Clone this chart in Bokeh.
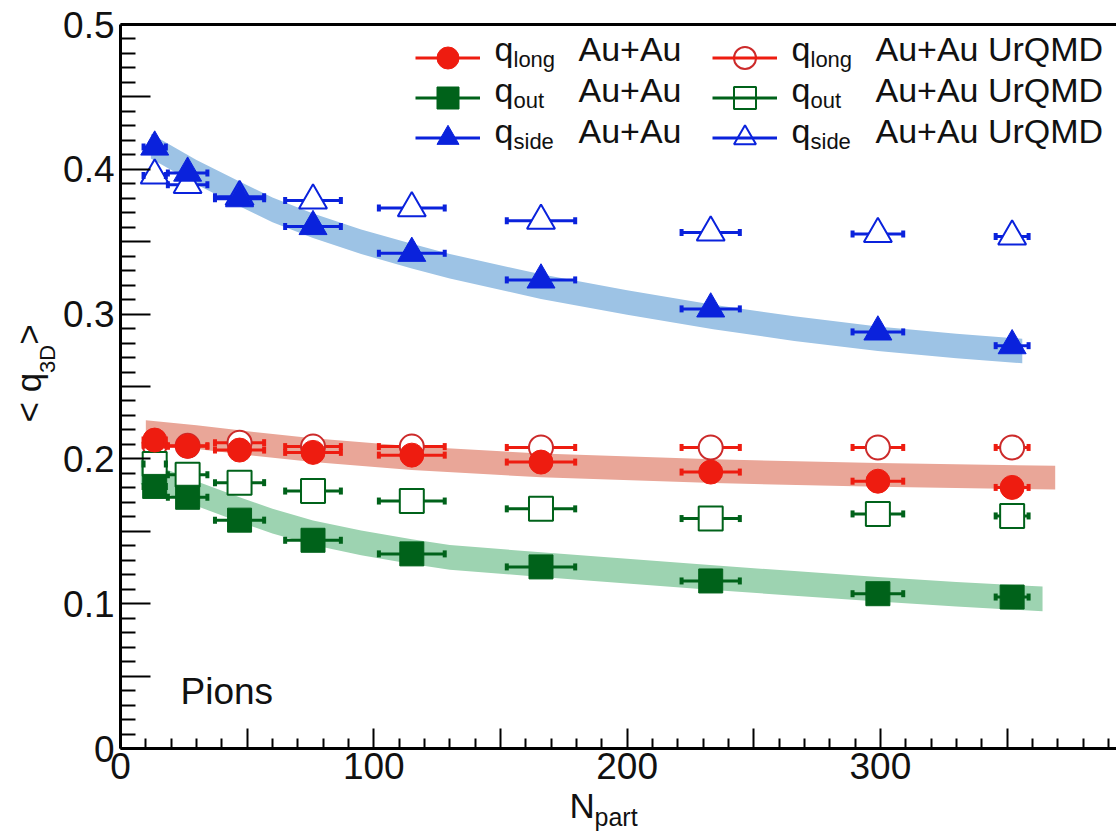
from math import pi, sin, cos
from bokeh.plotting import figure
from bokeh.models import (Range1d, LinearAxis, FixedTicker, ColumnDataSource, Whisker,
                          TeeHead, Label, Legend, LegendItem)
from bokeh.embed import file_html
from bokeh.resources import INLINE

# ---------------- data ----------------
npart = [13.5, 26.5, 47, 76, 115, 166, 233, 299, 352]
npart_err = [4.4, 7.8, 9.7, 11.0, 13.0, 13.5, 11.5, 10.0, 6.5]

q_long_auau = [0.2130, 0.2088, 0.2061, 0.2045, 0.2026, 0.1978, 0.1909, 0.1846, 0.1803]
q_out_auau = [0.1810, 0.1735, 0.1577, 0.1438, 0.1344, 0.1254, 0.1157, 0.1069, 0.1046]
q_side_auau = [0.4154, 0.3974, 0.3797, 0.3605, 0.3420, 0.3236, 0.3036, 0.2877, 0.2782]

q_long_urqmd = [0.2095, 0.2090, 0.2112, 0.2085, 0.2085, 0.2079, 0.2079, 0.2079, 0.2079]
q_out_urqmd = [0.1964, 0.1890, 0.1836, 0.1778, 0.1709, 0.1655, 0.1588, 0.1620, 0.1606]
q_side_urqmd = [0.3958, 0.3893, 0.3810, 0.3785, 0.3732, 0.3645, 0.3564, 0.3553, 0.3536]

band_long_x = [10, 30, 47, 76, 115, 166, 234, 299, 369]
band_long_hi = [0.2267, 0.2232, 0.2197, 0.2142, 0.2087, 0.2037, 0.1997, 0.1972, 0.1952]
band_long_lo = [0.2103, 0.2068, 0.2033, 0.1978, 0.1923, 0.1873, 0.1833, 0.1808, 0.1788]

band_out_x = [8, 20, 30, 47, 60, 76, 95, 115, 130, 166, 200, 234, 266, 299, 330, 364]
band_out_hi = [0.1995, 0.1915, 0.1845, 0.1735, 0.1655, 0.1575, 0.1505, 0.1445, 0.1405,
               0.1355, 0.1310, 0.1265, 0.1225, 0.1185, 0.1150, 0.1118]
band_out_lo = [0.1825, 0.1745, 0.1675, 0.1565, 0.1485, 0.1405, 0.1335, 0.1275, 0.1235,
               0.1185, 0.1140, 0.1095, 0.1055, 0.1015, 0.0980, 0.0948]

band_side_x = [12, 20, 30, 47, 60, 76, 95, 115, 130, 166, 200, 234, 266, 299, 330, 356]
band_side_hi = [0.4245, 0.4165, 0.4065, 0.3915, 0.3805, 0.3695, 0.3585, 0.3485, 0.3415,
                0.3275, 0.3165, 0.3065, 0.2985, 0.2915, 0.2865, 0.2830]
band_side_lo = [0.4075, 0.3995, 0.3895, 0.3745, 0.3635, 0.3525, 0.3415, 0.3315, 0.3245,
                0.3105, 0.2995, 0.2895, 0.2815, 0.2745, 0.2695, 0.2660]

x_major = [0, 50, 100, 150, 200, 250, 300, 350]
x_minor = [10, 20, 30, 40, 60, 70, 80, 90, 110, 120, 130, 140, 160, 170, 180, 190,
           210, 220, 230, 240, 260, 270, 280, 290, 310, 320, 330, 340, 360, 370, 380, 390]
x_labels = {0: "0", 50: "", 100: "100", 150: "", 200: "200", 250: "", 300: "300", 350: ""}
y_major = [0, 0.05, 0.1, 0.15, 0.2, 0.25, 0.3, 0.35, 0.4, 0.45, 0.5]
y_minor = [0.01, 0.02, 0.03, 0.04, 0.06, 0.07, 0.08, 0.09, 0.11, 0.12, 0.13, 0.14,
           0.16, 0.17, 0.18, 0.19, 0.21, 0.22, 0.23, 0.24, 0.26, 0.27, 0.28, 0.29,
           0.31, 0.32, 0.33, 0.34, 0.36, 0.37, 0.38, 0.39, 0.41, 0.42, 0.43, 0.44,
           0.46, 0.47, 0.48, 0.49]
y_labels = {0: "0", 0.05: "", 0.1: "0.1", 0.15: "", 0.2: "0.2", 0.25: "", 0.3: "0.3",
            0.35: "", 0.4: "0.4", 0.45: "", 0.5: "0.5"}

RED, GREEN, BLUE = "#ee1c10", "#00621a", "#0a22dc"
RED_OPEN = "#cc2a2a"
BAND_RED, BAND_GREEN, BAND_BLUE = "#e9a698", "#9dd3b1", "#9dc3e5"
FONT = "Liberation Sans"

# ---------------- layout constants (canvas pixels) ----------------
W, H = 1116, 831
FL, FT, FB = 120, 24, 748          # where x=0, y=0.5 and y=0 sit
X_END, Y_TOP = 393.2, 0.5
x_start = -FL * X_END / (W - FL)
ppy = (FB - FT) / Y_TOP
y_start = -(H - FB) / ppy
y_end = Y_TOP + FT / ppy

p = figure(width=W, height=H, x_range=Range1d(x_start, X_END), y_range=Range1d(y_start, y_end),
           output_backend="svg", toolbar_location=None,
           min_border_left=0, min_border_right=0, min_border_top=0, min_border_bottom=0)
p.xgrid.visible = False
p.ygrid.visible = False
p.outline_line_color = None
p.background_fill_color = "white"
p.border_fill_color = "white"

xa = p.xaxis[0]
xa.fixed_location = 0
xa.bounds = (0, X_END)
xa.ticker = FixedTicker(ticks=x_major, minor_ticks=x_minor)
xa.major_label_overrides = x_labels
xa.major_tick_in, xa.major_tick_out = 20, 0
xa.minor_tick_in, xa.minor_tick_out = 10, 0
ya = p.yaxis[0]
ya.fixed_location = 0
ya.bounds = (0, Y_TOP)
ya.ticker = FixedTicker(ticks=y_major, minor_ticks=y_minor)
ya.major_label_overrides = y_labels
ya.major_tick_in, ya.major_tick_out = 30, 0
ya.minor_tick_in, ya.minor_tick_out = 15, 0
for ax in (xa, ya):
    ax.axis_line_width = 3
    ax.axis_line_color = "black"
    ax.major_tick_line_width = 2
    ax.minor_tick_line_width = 2
    ax.major_tick_line_color = "black"
    ax.minor_tick_line_color = "black"
    ax.major_label_text_font = FONT
    ax.major_label_text_font_size = "37px"
    ax.major_label_text_color = "#111111"
xa.major_label_standoff = 4
ya.major_label_standoff = 6

top = LinearAxis(fixed_location=Y_TOP, bounds=(0, X_END), ticker=FixedTicker(ticks=[]),
                 major_tick_in=0, major_tick_out=0, minor_tick_in=0, minor_tick_out=0,
                 axis_line_width=3, major_label_text_font_size="0px")
p.add_layout(top, "above")

# ---------------- bands ----------------
p.varea(x=band_long_x, y1=band_long_lo, y2=band_long_hi, fill_color=BAND_RED, fill_alpha=1)
p.varea(x=band_out_x, y1=band_out_lo, y2=band_out_hi, fill_color=BAND_GREEN, fill_alpha=1)
p.varea(x=band_side_x, y1=band_side_lo, y2=band_side_hi, fill_color=BAND_BLUE, fill_alpha=1)


def series(yvals, color, marker, size, filled, outline=None):
    src = ColumnDataSource(dict(
        x=npart, y=yvals,
        xlo=[a - e for a, e in zip(npart, npart_err)],
        xhi=[a + e for a, e in zip(npart, npart_err)]))
    seg = p.segment(x0="xlo", y0="y", x1="xhi", y1="y", source=src,
                    line_color=color, line_width=3)
    p.add_layout(Whisker(source=src, base="y", lower="xlo", upper="xhi", dimension="width",
                         line_alpha=0, level="annotation",
                         upper_head=TeeHead(size=7, line_color=color, line_width=4),
                         lower_head=TeeHead(size=7, line_color=color, line_width=4)))
    if filled:
        sc = p.scatter("x", "y", source=src, marker=marker, size=size,
                       fill_color=color, line_color=color, line_width=1)
    else:
        sc = p.scatter("x", "y", source=src, marker=marker, size=size,
                       fill_color="white", line_color=outline or color, line_width=2)
    return seg, sc


r_long_u = series(q_long_urqmd, RED, "circle", 24, False, RED_OPEN)
r_out_u = series(q_out_urqmd, GREEN, "square", 24, False)
r_side_u = series(q_side_urqmd, BLUE, "triangle", 28, False)
r_long = series(q_long_auau, RED, "circle", 24, True)
r_out = series(q_out_auau, GREEN, "square", 24, True)
r_side = series(q_side_auau, BLUE, "triangle", 28, True)

# ---------------- legend: one single-item legend per entry ----------------
GH = 55
row_y = [57, 97, 137]
for col_x, rs in [(415, [r_long, r_out, r_side]), (712, [r_long_u, r_out_u, r_side_u])]:
    for r, yc in zip(rs, row_y):
        p.add_layout(Legend(items=[LegendItem(label=" ", renderers=[r[1], r[0]])],
                            location=(col_x, H - (yc + GH / 2)), orientation="vertical",
                            glyph_width=65, glyph_height=GH, spacing=0, padding=0, margin=0,
                            border_line_color=None, background_fill_alpha=0,
                            label_text_font_size="1px", label_height=10, label_width=1,
                            label_standoff=0))

BASE_K = 0.35   # observed drop of the rendered baseline, in em


def lab(X, Y, text, size, angle=0.0):
    # (X, Y): wanted baseline start in canvas pixels (y down)
    dx, dy = sin(angle), cos(angle)           # text "down" direction on screen
    ax_ = X - BASE_K * size * dx
    ay_ = Y - BASE_K * size * dy
    p.add_layout(Label(x=ax_, y=H - ay_, x_units="screen", y_units="screen", text=text,
                       text_font=FONT, text_font_size=f"{size}px", text_color="#111111",
                       text_baseline="alphabetic", text_align="left", angle=angle))


subs = ["long", "out", "side"]
baselines = [60, 101, 142]
for x0, tail in [(494, "Au+Au"), (791, "Au+Au UrQMD")]:
    for s, yb in zip(subs, baselines):
        lab(x0, yb, "q", 34)
        lab(x0 + 19, yb + 7, s, 22)
        lab(x0 + 84, yb, tail, 34)

lab(180, 704, "Pions", 37)

# x title  N_part
lab(569, 817, "N", 35)
lab(594, 825, "part", 25)

# y title  < q_3D >  (rotated)
lab(40, 422, "< q", 35, pi / 2)
lab(55, 372.4, "3D", 22, pi / 2)
lab(40, 344.3, " >", 35, pi / 2)

open("out.html", "w").write(file_html(p, INLINE))
